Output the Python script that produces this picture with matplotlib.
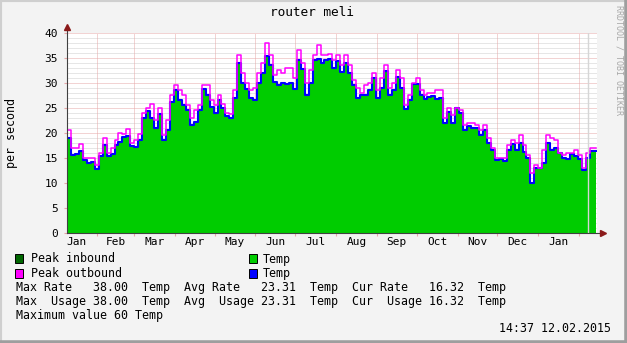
from datetime import datetime, timedelta
import numpy as np
import matplotlib
matplotlib.use('Agg')
import matplotlib.pyplot as plt
import matplotlib.dates as mdates
from matplotlib.patches import Rectangle
from matplotlib.lines import Line2D

# samples every 3 days, starting 2014-01-09
START = datetime(2014, 1, 9, 6)
STEP_DAYS = 3

avg_rate = [19, 15.5, 15.8, 16.3, 14.6, 13.9, 14.2, 12.8, 15.3, 17.5,
            15.4, 15.8, 17.5, 18.2, 19.2, 19.4, 17.3, 17.1, 18.5, 23,
            24.3, 23, 21, 23.8, 18.5, 20.5, 26.2, 28.5, 26.5, 25.5,
            24.5, 21.5, 22.2, 24.5, 28.8, 27.5, 25.2, 24, 26.5, 25,
            23.3, 23, 27, 34, 30, 28.7, 27, 26.5, 30, 32,
            35.3, 33.5, 30.2, 29.5, 30, 29.8, 30, 28.8, 34.5, 32.7,
            27.5, 30, 34.5, 34.7, 34, 34.5, 34.7, 33, 34.3, 32.2,
            34, 32, 29.5, 27, 27.5, 27.5, 28.5, 31, 27, 29,
            32.3, 27.5, 28.5, 31.2, 29, 24.8, 26.5, 29.7, 29.7, 27.5,
            26.8, 27.1, 27.3, 26.8, 27, 22, 24.2, 22, 25, 24,
            20.5, 21.3, 21, 21, 19.5, 20.5, 18, 16.5, 14.5, 14.7,
            14.3, 16.5, 17.7, 16.5, 18, 16.2, 15, 10, 13, 12.9,
            14, 18, 16.5, 17, 16, 15, 14.7, 15.8, 15.4, 14.8,
            12.5, 15, 16.3]

peak_rate = [20.5, 17, 17, 17.8, 15, 15, 15, 13.5, 16, 19,
             16, 17, 18.5, 20, 19.8, 20.7, 18, 18.5, 19.7, 24,
             25, 25.8, 22.5, 25, 19.5, 22.5, 27.5, 29.5, 28.5, 27.5,
             25.5, 23, 24.5, 25.5, 29.5, 29.5, 26.5, 25.5, 27.5, 25.8,
             24, 23.8, 28.5, 35.5, 32, 30, 28.5, 29, 32, 34,
             38, 35.5, 31.5, 32.5, 32, 33, 33, 31, 36.5, 34,
             30, 32.5, 35.5, 37.5, 35.5, 35.5, 35.7, 34.5, 35.5, 33.5,
             35.5, 33.5, 30.5, 29, 28, 29.5, 30, 32, 28.5, 31,
             33.5, 29, 30, 32.5, 31, 25.5, 27.5, 30, 31, 28.5,
             27.5, 28, 28, 28.5, 28.5, 23, 25, 23.5, 25, 24.5,
             21.5, 22, 22, 21.5, 20.5, 21.5, 19, 17, 15, 15,
             15, 17.5, 18.5, 18, 19.5, 17.5, 15.5, 12, 13.5, 13,
             16.5, 19.5, 19, 18.5, 16, 15.5, 16, 16, 16.5, 15.5,
             13, 16, 17]

month_names = ['Jan', 'Feb', 'Mar', 'Apr', 'May', 'Jun', 'Jul',
               'Aug', 'Sep', 'Oct', 'Nov', 'Dec', 'Jan']

legend_rows = [
    "Max Rate   38.00  Temp  Avg Rate   23.31  Temp  Cur Rate   16.32  Temp",
    "Max  Usage 38.00  Temp  Avg  Usage 23.31  Temp  Cur  Usage 16.32  Temp",
    "Maximum value 60 Temp",
]
stamp = "14:37 12.02.2015"

W, H = 627, 343
MONO = 'DejaVu Sans Mono'
plt.rcParams['font.family'] = MONO

def fx(px):
    return px / W

def fy(py):
    return 1 - py / H

n = len(avg_rate)
edges = [START + timedelta(days=STEP_DAYS * i) for i in range(n)]
edges.append(START + timedelta(days=400.5))
avg_ext = avg_rate + [avg_rate[-1]]
peak_ext = peak_rate + [peak_rate[-1]]
x_end = START + timedelta(days=401.4)

fig = plt.figure(figsize=(W / 100, H / 100), dpi=100, facecolor='#f3f3f3')
ax = fig.add_axes([fx(67), fy(233), fx(530), 200 / H])
ax.set_facecolor('white')

# grid
for v in range(0, 41):
    if v % 5 == 0:
        continue
    ax.axhline(v, color='#cfcfcf', lw=0.72, ls=(0, (1, 1)), zorder=1)
for v in range(5, 41, 5):
    ax.axhline(v, color='#e6a8a8', lw=0.72, ls=(0, (1, 1)), zorder=1)
month_starts = [datetime(2014 + (m - 1) // 12, (m - 1) % 12 + 1, 1) for m in range(2, 15)]
for d in month_starts:
    ax.axvline(d, color='#e6a8a8', lw=0.72, ls=(0, (1, 1)), zorder=1)

ax.fill_between(edges, avg_ext, step='post', color='#00cc00', lw=0, zorder=2)
ax.step(edges, avg_ext, where='post', color='#0000ff', lw=1.5, zorder=3)
ax.step(edges, peak_ext, where='post', color='#ff00ff', lw=1.1, zorder=4)
ax.axvline(datetime(2015, 2, 7, 18), color='#d6d6d6', lw=1.0, zorder=5)

ax.set_xlim(START, x_end)
ax.set_ylim(0, 40)

# month labels centred between month boundaries
all_starts = [datetime(2014, 1, 1)] + month_starts
mids = [all_starts[i] + (all_starts[i + 1] - all_starts[i]) / 2 for i in range(len(month_names))]
ax.set_xticks(month_starts)
ax.set_xticklabels([])
ax.set_xticks(mids, minor=True)
ax.set_xticklabels(month_names, minor=True)
ax.tick_params(axis='x', which='major', length=2, color='#e6a8a8', width=0.8)
ax.tick_params(axis='x', which='minor', length=0, pad=3, labelsize=8)
ax.set_yticks(range(0, 41, 5))
ax.tick_params(axis='y', length=2, color='#e6a8a8', width=0.8, pad=4.5, labelsize=8)

for s in ax.spines.values():
    s.set_visible(False)

# axes with arrows
ax.add_line(Line2D([0, 0], [0, 1.03], transform=ax.transAxes, color='#404040',
                   lw=0.8, clip_on=False, zorder=6))
ax.add_line(Line2D([0, 1.012], [0, 0], transform=ax.transAxes, color='#404040',
                   lw=0.8, clip_on=False, zorder=6))
ax.plot([0], [1.03], marker='^', ms=4.5, color='#8b1a1a', transform=ax.transAxes,
        clip_on=False, zorder=7)
ax.plot([1.012], [0], marker='>', ms=4.5, color='#8b1a1a', transform=ax.transAxes,
        clip_on=False, zorder=7)

fig.text(fx(312), fy(13), 'router meli', ha='center', va='center', fontsize=9.2)
fig.text(fx(11), fy(133), 'per second', ha='center', va='center', rotation=90, fontsize=8.4)
fig.text(fx(619), fy(60), 'RRDTOOL / TOBI OETIKER', ha='center', va='center',
         rotation=270, fontsize=6, color='#a8a8a8')

# legend
def swatch(x, y, c):
    fig.patches.append(Rectangle((fx(x), fy(y + 4.5)), 8 / W, 9 / H, transform=fig.transFigure,
                                 facecolor=c, edgecolor='black', lw=0.7))

swatch(15.5, 258.5, '#006600')
fig.text(fx(31), fy(259), 'Peak inbound', va='center', fontsize=8.4)
swatch(15.5, 273.5, '#ff00ff')
fig.text(fx(31), fy(273.5), 'Peak outbound', va='center', fontsize=8.4)
swatch(248.5, 258.5, '#00cc00')
fig.text(fx(263), fy(259), 'Temp', va='center', fontsize=8.4)
swatch(248.5, 273.5, '#0000ff')
fig.text(fx(263), fy(273.5), 'Temp', va='center', fontsize=8.4)
for i, row in enumerate(legend_rows):
    fig.text(fx(16.5), fy(287 + 14 * i), row, va='center', fontsize=8.4)
fig.text(fx(611), fy(329), stamp, ha='right', va='center', fontsize=8.4)

# frame
fig.add_artist(Line2D([0, 0, 1], [0, 1, 1], transform=fig.transFigure, color='#cfcfcf', lw=3))
fig.add_artist(Line2D([0, 1, 1], [0, 0, 1], transform=fig.transFigure, color='#9e9e9e', lw=4))

fig.savefig('out.png', dpi=100, facecolor=fig.get_facecolor())
